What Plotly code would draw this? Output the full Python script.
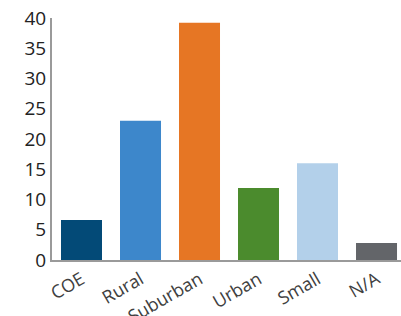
import plotly.graph_objects as go

categories = ["COE", "Rural", "Suburban", "Urban", "Small", "N/A"]
values = [6.6, 23.0, 39.2, 11.9, 16.0, 2.8]
colors = ["#034a77", "#3d87cb", "#e67624", "#4b8b2d", "#b3d0ea", "#636569"]
y_ticks = [0, 5, 10, 15, 20, 25, 30, 35, 40]

fig = go.Figure(go.Bar(x=categories, y=values, marker=dict(color=colors, line=dict(width=0))))

fig.update_layout(
    width=401, height=316,
    margin=dict(l=52, r=0, t=18, b=56, autoexpand=False),
    plot_bgcolor="white", paper_bgcolor="white",
    bargap=0.305,
    showlegend=False,
    font=dict(family="Open Sans", size=19, color="#333333"),
)
fig.update_xaxes(
    range=[-0.5, 5.415], tickangle=-30, showline=True, linecolor="#9a9a9a", linewidth=2,
    ticks="", showgrid=False, automargin=False, ticklabeloverflow="allow",
    tickfont=dict(size=18, color="#404040"),
)
fig.update_yaxes(
    range=[0, 40], tickvals=y_ticks, showline=True, linecolor="#9a9a9a", linewidth=2,
    ticks="", showgrid=False, zeroline=False, automargin=False, ticklabeloverflow="allow",
    tickfont=dict(size=19, color="#222222"),
)

fig.write_html(
    "out.html",
    config={"displayModeBar": False},
    post_script="document.body.style.margin='0';document.body.style.overflow='hidden';",
)
